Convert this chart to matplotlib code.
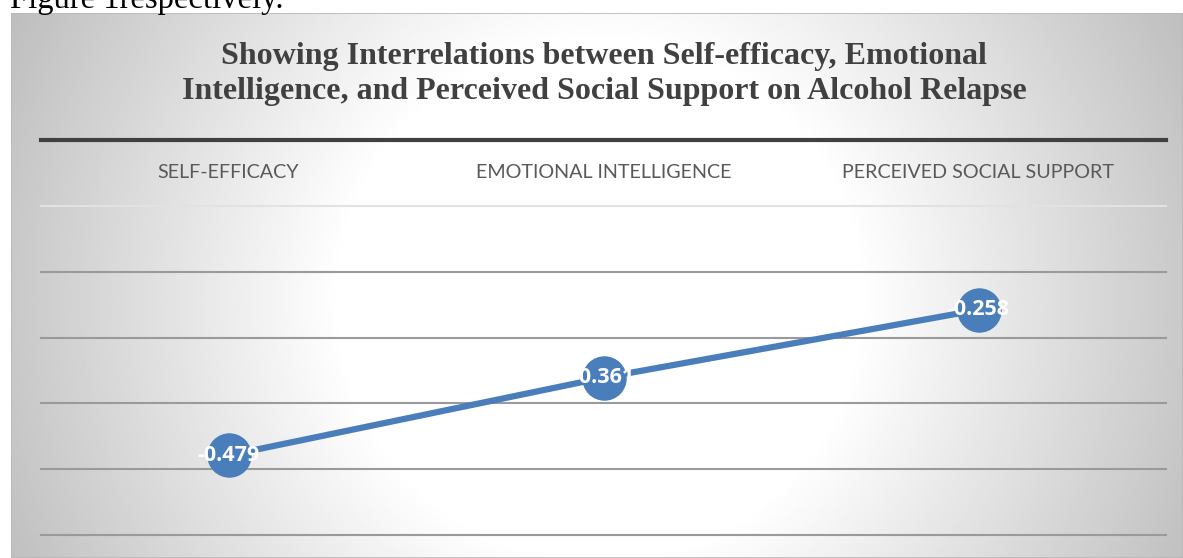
"""Interrelations chart: self-efficacy, emotional intelligence, social support."""

import numpy as np
import matplotlib.pyplot as plt
from matplotlib.patches import Rectangle

categories = ["SELF-EFFICACY", "EMOTIONAL INTELLIGENCE", "PERCEIVED SOCIAL SUPPORT"]
values = [-0.479, -0.361, -0.258]
grid_levels = [-0.1, -0.2, -0.3, -0.4, -0.5, -0.6]
title = ("Showing Interrelations between Self-efficacy, Emotional\n"
         "Intelligence, and Perceived Social Support on Alcohol Relapse")
caption = "Figure 1respectively."

W, H, DPI = 1183, 558, 100
BLUE = "#4a7ebb"
DARK = "#404040"

fig = plt.figure(figsize=(W / DPI, H / DPI), dpi=DPI)
fig.patch.set_facecolor("white")


def px(x, y):
    """pixel (from top-left) -> figure fraction"""
    return x / W, 1 - y / H


# --- chart box with radial gradient (white centre, grey edges) ---
box_l, box_t = 11, 13
bg = fig.add_axes([box_l / W, 0, 1 - box_l / W, 1 - box_t / H])
bg.set_axis_off()
gx, gy = np.meshgrid(np.linspace(box_l, W, 500), np.linspace(box_t, H, 240))
d = np.hypot(gx - 600, gy - 300)
shade = 1.0 - 0.22 * np.clip((d - 260) / 340, 0, 1.15)
bg.imshow(shade, cmap="gray", vmin=0, vmax=1, aspect="auto",
          extent=(0, 1, 0, 1), interpolation="bilinear")
bg.add_patch(Rectangle((0, 0), 1, 1, transform=bg.transAxes, fill=False,
                       edgecolor="#b8b8b8", linewidth=1.2))
bg.set_xlim(0, 1)
bg.set_ylim(0, 1)

# partial caption cut off at top of page
fig.text(*px(10, 8), caption, family="Liberation Serif", fontsize=23.5,
         ha="left", va="baseline", color="black")

# title
fig.text(*px(604, 74), title, family="Liberation Serif", fontweight="bold",
         fontsize=23, color=DARK, ha="center", va="center", linespacing=1.26)

# --- plot area ---
l, top = px(41, 140)
r_, b = px(1166, 535)
ax = fig.add_axes([l, b, r_ - l, top - b])
ax.patch.set_alpha(0)
for s in ax.spines.values():
    s.set_visible(False)
ax.set_xticks([])
ax.set_yticks([])
ax.set_xlim(-0.5, len(categories) - 0.5)
ax.set_ylim(min(grid_levels), 0)

for i, lvl in enumerate(grid_levels):
    ax.axhline(lvl, color="#e2e2e2" if i == 0 else "#9a9a9a",
               linewidth=1.5, clip_on=False, zorder=1)
ax.axhline(0, color=DARK, linewidth=3, clip_on=False, zorder=2)

x = np.arange(len(categories))
ax.plot(x, values, color=BLUE, linewidth=4.5, marker="o", markersize=32,
        markerfacecolor=BLUE, markeredgewidth=0, zorder=3, clip_on=False)

for xi, cat in zip(x, categories):
    ax.annotate(cat, (xi, 0), xytext=(0, -23.5), textcoords="offset points",
                ha="center", va="center", family="Lato", fontsize=14.2,
                color="#595959")

for xi, v in zip(x, values):
    ax.annotate(f"{v:.3f}", (xi, v), xytext=(0, 0), textcoords="offset points",
                ha="center", va="center", family="Open Sans", fontweight="bold",
                fontsize=15.5, color="white", zorder=4)

fig.savefig("out.png", dpi=DPI)
